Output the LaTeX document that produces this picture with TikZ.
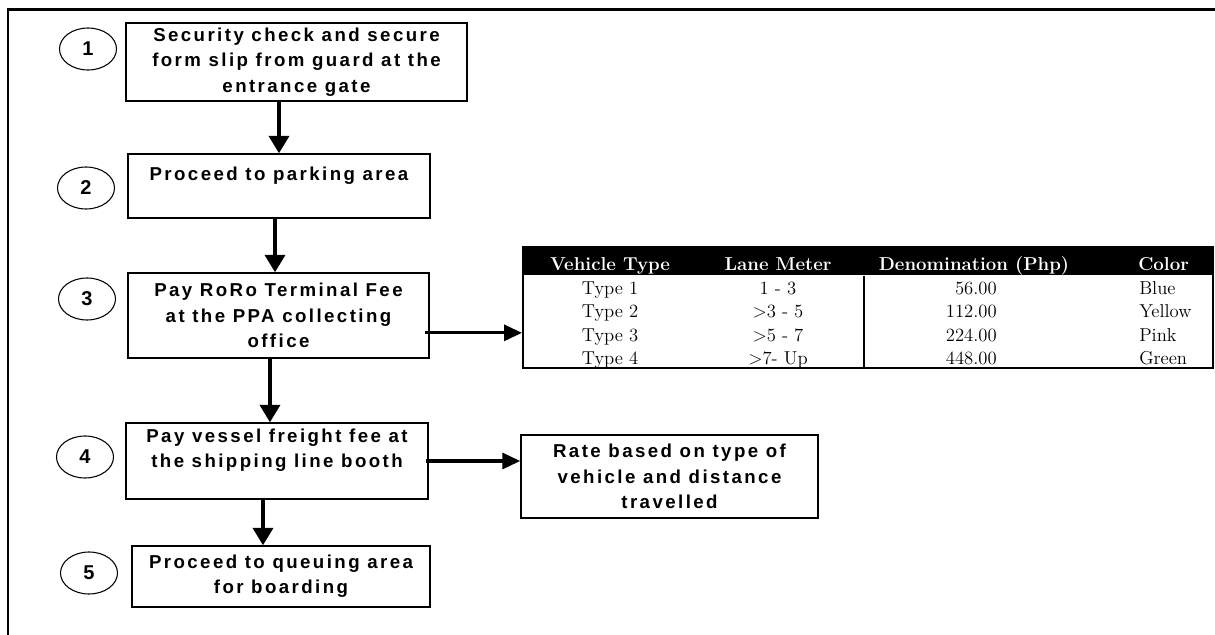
\documentclass[tikz,border=0pt]{standalone}
\usepackage{fontspec}
\newfontfamily\boxfont[LetterSpace=13]{Liberation Sans}
\newfontfamily\numfont{Liberation Sans}
\usetikzlibrary{arrows.meta,shapes.geometric}

\begin{document}
\begin{tikzpicture}[x=0.75pt,y=0.75pt,yscale=-1,xscale=1,
  stepbox/.style={draw, line width=1.1pt, align=center, inner sep=0pt, font=\boxfont\bfseries\fontsize{14}{19}\selectfont},
  numoval/.style={draw, ellipse, line width=0.8pt, minimum width=42.75pt, minimum height=31.5pt, inner sep=0pt, font=\numfont\bfseries\fontsize{15}{18}\selectfont},
  flowarrow/.style={line width=2.6pt, -{Triangle[length=13pt,width=15pt]}},
  sidearrow/.style={line width=2.4pt, -{Triangle[length=13.5pt,width=12pt]}},
  headtext/.style={anchor=base, text=white, inner sep=0pt, font=\bfseries\fontsize{14}{17}\selectfont},
  celltext/.style={anchor=base, inner sep=0pt, font=\fontsize{14}{17}\selectfont}]
\useasboundingbox (0,0) rectangle (1215,635);

%Shape: Frame
\draw[line width=1.8pt] (8,635) -- (8,9.5) -- (1215,9.5) ;

%Shape: Ellipse (step numbers)
\node[numoval] (num1) at (88,49) {1};
\node[numoval] (num2) at (86,188) {2};
\node[numoval] (num3) at (87,299) {3};
\node[numoval] (num4) at (85,457) {4};
\node[numoval] (num5) at (89,573) {5};

%Shape: Rectangle (steps)
\node[stepbox, minimum width=255.75pt, minimum height=58.5pt] (box1) at (296.5,62) {Security check and secure\\form slip from guard at the\\entrance gate};
\node[stepbox, minimum width=226.5pt, minimum height=48pt] (box2) at (279,186) {Proceed to parking area\\~};
\node[stepbox, minimum width=225.75pt, minimum height=63.75pt] (box3) at (278.5,315.5) {Pay RoRo Terminal Fee\\at the PPA collecting\\office};
\node[stepbox, minimum width=226.5pt, minimum height=57pt] (box4) at (277,461) {Pay vessel freight fee at\\the shipping line booth\\~};
\node[stepbox, minimum width=223.5pt, minimum height=45.75pt] (box5) at (281,576.5) {Proceed to queuing area\\for boarding};
\node[stepbox, minimum width=222.75pt, minimum height=62.25pt] (rate) at (669.5,476.5) {Rate based on type of\\vehicle and distance\\travelled};

%Shape: Table
\node[fill=black, minimum width=517.5pt, minimum height=21pt, anchor=north west, inner sep=0pt] (tblhead) at (523,247) {};
\node[draw, line width=1.5pt, minimum width=517.5pt, minimum height=90.75pt, inner sep=0pt] (tbl) at (868,307.5) {};
\draw[line width=1.5pt] (tblhead.south -| 864,0) -- (tbl.south -| 864,0) ;

% Text Node (table header)
\node[headtext] (hvtype) at (610,270) {Vehicle Type};
\node[headtext] (hlane) at (778,270) {Lane Meter};
\node[headtext] (hdenom) at (974,270) {Denomination (Php)};
\node[headtext, anchor=base west] (hcolor) at (1138,270) {Color};

% Text Node (table rows)
\node[celltext] (vt1) at (610,294) {Type 1};
\node[celltext] (vt2) at (610,317.5) {Type 2};
\node[celltext] (vt3) at (610,341) {Type 3};
\node[celltext] (vt4) at (610,364) {Type 4};
\node[celltext] (lm1) at (778,294) {1 - 3};
\node[celltext] (lm2) at (778,317.5) {>3 - 5};
\node[celltext] (lm3) at (778,341) {>5 - 7};
\node[celltext] (lm4) at (778,364) {>7- Up};
\node[celltext, anchor=base east] (dn1) at (997,294) {56.00};
\node[celltext, anchor=base east] (dn2) at (997,317.5) {112.00};
\node[celltext, anchor=base east] (dn3) at (997,341) {224.00};
\node[celltext, anchor=base east] (dn4) at (997,364) {448.00};
\node[celltext, anchor=base west] (cl1) at (1139,294) {Blue};
\node[celltext, anchor=base west] (cl2) at (1139,317.5) {Yellow};
\node[celltext, anchor=base west] (cl3) at (1139,341) {Pink};
\node[celltext, anchor=base west] (cl4) at (1139,364) {Green};

%Straight Lines (arrows)
\draw[flowarrow] (box1.south -| box2.north) -- (box2.north) ;
\draw[flowarrow] ([xshift=-3pt]box2.south) -- ([xshift=-3pt]box2.south |- box3.north) ;
\draw[flowarrow] ([xshift=-6.4pt]box3.south) -- ([xshift=-6.4pt]box3.south |- box4.north) ;
\draw[flowarrow] ([xshift=-10.5pt]box4.south) -- ([xshift=-10.5pt]box4.south |- box5.north) ;
\draw[sidearrow] ([xshift=-3.5pt,yshift=13pt]box3.east) -- ([yshift=13pt]box3.east -| tbl.west) ;
\draw[sidearrow] ([xshift=-2pt]box4.east) -- (box4.east -| rate.west) ;

\end{tikzpicture}
\end{document}
